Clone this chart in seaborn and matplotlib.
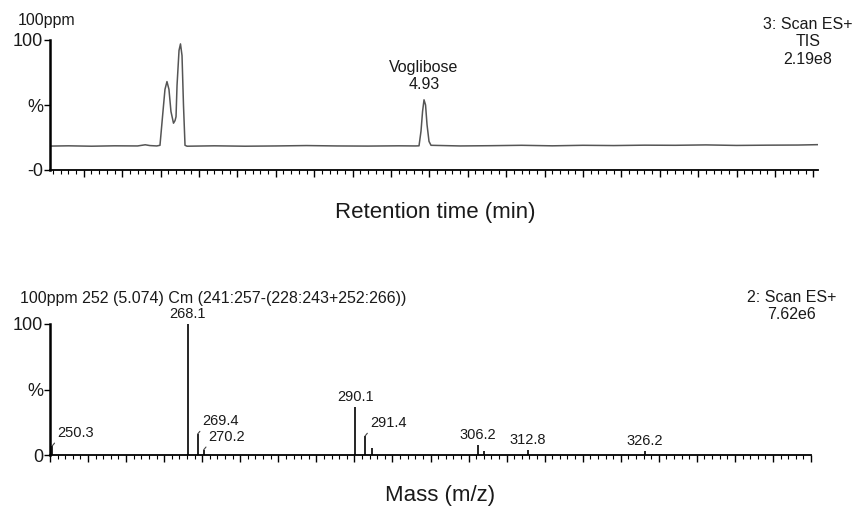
import matplotlib
matplotlib.use("Agg")
import matplotlib.pyplot as plt
from matplotlib.ticker import MultipleLocator
import seaborn as sns
import pandas as pd

# ---- chromatogram (TIC) values ----
rt_min = [0.06, 0.3, 0.6, 0.9, 1.2, 1.3, 1.36, 1.45,
          1.492, 1.531, 1.557, 1.583, 1.609, 1.635, 1.668, 1.688, 1.701, 1.714,
          1.740, 1.759, 1.779, 1.798, 1.818, 1.844,
          2.2, 2.6, 3.0, 3.4, 3.8, 4.2, 4.6, 4.82,
          4.865, 4.891, 4.911, 4.930, 4.950, 4.969, 4.995, 5.021,
          5.4, 5.8, 6.2, 6.6, 7.0, 7.4, 7.8, 8.2, 8.6, 9.0, 9.4, 9.8, 10.06]
tic_pct = [18.4, 18.6, 18.3, 18.6, 18.5, 19.4, 18.8, 18.5,
           19.0, 45, 62, 68, 62, 45, 36, 38, 41, 65,
           92, 97, 88, 50, 19, 18.3,
           18.6, 18.3, 18.5, 18.8, 18.5, 18.4, 18.6, 18.5,
           18.6, 30, 45, 54, 50, 35, 22, 19,
           18.5, 18.7, 19.0, 18.6, 19.0, 18.8, 19.1, 19.0, 19.3, 18.9, 19.1, 19.2, 19.5]
peak_label_rt = 4.93
peak_label_pct = 54
peak_name = "Voglibose"

# ---- mass spectrum values ----
mz = [250.3, 268.1, 269.4, 270.2, 290.1, 291.4, 292.3, 306.2, 307.0, 312.8, 328.2]
rel_int = [7, 100, 16, 4, 37, 14.5, 5, 7.6, 3, 4, 3]
mz_labels = ["250.3", "268.1", "269.4", "270.2", "290.1", "291.4", "",
             "306.2", "", "312.8", "326.2"]
leader = [True, False, True, True, False, True, False, False, False, False, False]

sns.set_theme(style="white")
plt.rcParams["font.family"] = ["Liberation Sans", "DejaVu Sans"]

W, H = 856, 507
fig = plt.figure(figsize=(W / 100, H / 100), dpi=100)

def fx(px):
    return px / W

def fy(py):
    return 1 - py / H

TXT = "#1a1a1a"

# ---------------- top panel ----------------
ax1 = fig.add_axes([fx(50), fy(170), fx(768), 130 / H])
df1 = pd.DataFrame({"rt": rt_min, "pct": tic_pct})
sns.lineplot(data=df1, x="rt", y="pct", ax=ax1, color="#555555", linewidth=1.1)
ax1.set_xlim(0.06, 10.06)
ax1.set_ylim(0, 100)
ax1.xaxis.set_major_locator(MultipleLocator(0.5))
ax1.xaxis.set_minor_locator(MultipleLocator(0.1))
ax1.set_xticklabels([])
ax1.set_yticks([0, 50, 100])
ax1.set_yticklabels(["-0", "%", "100"])
ax1.text(peak_label_rt, peak_label_pct + 6, f"{peak_name}\n{peak_label_rt:.2f}",
         ha="center", va="bottom", fontsize=11.5, linespacing=1.15, color=TXT)

# ---------------- bottom panel ----------------
ax2 = fig.add_axes([fx(50), fy(455), fx(761), 131 / H])
ax2.vlines(mz, 0, rel_int, color="black", linewidth=1.2)
ax2.set_xlim(250, 350)
ax2.set_ylim(0, 100)
ax2.xaxis.set_major_locator(MultipleLocator(5))
ax2.xaxis.set_minor_locator(MultipleLocator(1))
ax2.set_xticklabels([])
ax2.set_yticks([0, 50, 100])
ax2.set_yticklabels(["0", "%", "100"])
for m, h, lab, ld in zip(mz, rel_int, mz_labels, leader):
    if not lab:
        continue
    if ld:
        ax2.annotate(lab, xy=(m, h), xytext=(5, 6), textcoords="offset pixels",
                     ha="left", va="bottom", fontsize=10.5, color=TXT,
                     arrowprops=dict(arrowstyle="-", color="#444444", lw=0.8,
                                     shrinkA=0, shrinkB=0, relpos=(0, 0)))
    else:
        ax2.annotate(lab, xy=(m, h), xytext=(0, 3), textcoords="offset pixels",
                     ha="center", va="bottom", fontsize=10.5, color=TXT)

for ax in (ax1, ax2):
    sns.despine(ax=ax, top=True, right=True)
    ax.spines["left"].set_linewidth(1.8)
    ax.spines["bottom"].set_linewidth(1.3)
    ax.spines["left"].set_color("black")
    ax.spines["bottom"].set_color("black")
    ax.tick_params(axis="x", which="major", direction="out", length=5, width=1, color="black", bottom=True)
    ax.tick_params(axis="x", which="minor", direction="out", length=3, width=0.8, color="black", bottom=True)
    ax.tick_params(axis="y", which="major", direction="out", length=4, width=1, color="black",
                   labelsize=13, pad=1, left=True, labelcolor=TXT)
    ax.set_xlabel("")
    ax.set_ylabel("")
    ax.patch.set_alpha(0)

# ---------------- figure texts ----------------
fig.text(fx(18), fy(20), "100ppm", ha="left", va="center", fontsize=11.5, color=TXT)
fig.text(fx(808), fy(17), "3: Scan ES+\nTIS\n2.19e8", ha="center", va="top",
         fontsize=11.5, linespacing=1.2, color=TXT)
fig.text(fx(435), fy(213), "Retention time (min)", ha="center", va="center", fontsize=16, color=TXT)
fig.text(fx(20), fy(298), "100ppm 252 (5.074) Cm (241:257-(228:243+252:266))",
         ha="left", va="center", fontsize=11.5, color=TXT)
fig.text(fx(792), fy(290), "2: Scan ES+\n7.62e6", ha="center", va="top",
         fontsize=11.5, linespacing=1.2, color=TXT)
fig.text(fx(440), fy(496), "Mass (m/z)", ha="center", va="center", fontsize=16, color=TXT)

fig.savefig("out.png", dpi=100)
